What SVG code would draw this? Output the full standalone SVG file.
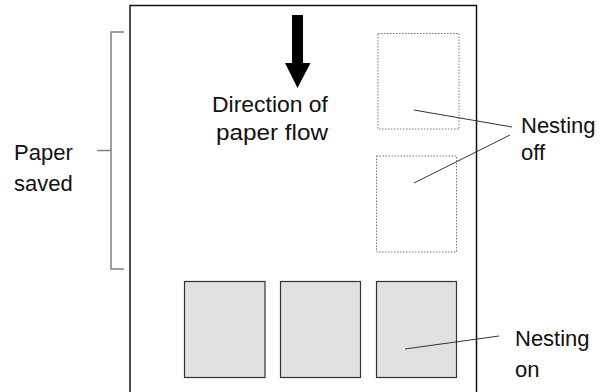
<svg xmlns="http://www.w3.org/2000/svg" width="601" height="392" viewBox="0 0 601 392">
<style>
text{font-family:"Liberation Sans",Arial,sans-serif;font-size:22px;fill:#111}
.leader{stroke:#333;stroke-width:1;fill:none}
.dotted{fill:none;stroke:#777;stroke-width:1;stroke-dasharray:1.5 1.5}
.box{fill:#e2e0e3;stroke:#333;stroke-width:1.2}
.bracket{fill:none;stroke:#808080;stroke-width:1.5}
</style>
<rect width="601" height="392" fill="#fff"/>
<g id="paper">
<path d="M130,392 V5.5 H476.5 V392" fill="none" stroke="#111" stroke-width="1.5"/>
</g>
<g id="arrow">
<polygon points="292,15 303,15 303,63 310.5,63 297.5,88 285,63 292,63" fill="#000"/>
<text x="270" y="112" text-anchor="middle" textLength="116" lengthAdjust="spacingAndGlyphs">Direction of</text>
<text x="272" y="140" text-anchor="middle" textLength="112" lengthAdjust="spacingAndGlyphs">paper flow</text>
</g>
<g id="paper-saved">
<path class="bracket" d="M124,32 H111 V269 H124 M111,150.5 H97"/>
<text x="14" y="160">Paper</text>
<text x="14" y="191">saved</text>
</g>
<g id="nesting-off">
<rect class="dotted" x="378" y="33.5" width="81" height="95.5"/>
<rect class="dotted" x="376.5" y="156" width="80" height="96"/>
<text x="521" y="133">Nesting</text>
<text x="521" y="160">off</text>
</g>
<g id="nesting-on">
<rect class="box" x="184.5" y="281.5" width="80.5" height="96"/>
<rect class="box" x="280.5" y="281.5" width="80" height="96"/>
<rect class="box" x="376.5" y="281.5" width="80" height="96"/>
<text x="515" y="346">Nesting</text>
<text x="515" y="377">on</text>
</g>
<g id="connectors">
<line class="leader" x1="414" y1="110" x2="512" y2="127"/>
<line class="leader" x1="414" y1="183" x2="510" y2="135"/>
<line class="leader" x1="405" y1="349" x2="499" y2="336"/>
</g>
</svg>
